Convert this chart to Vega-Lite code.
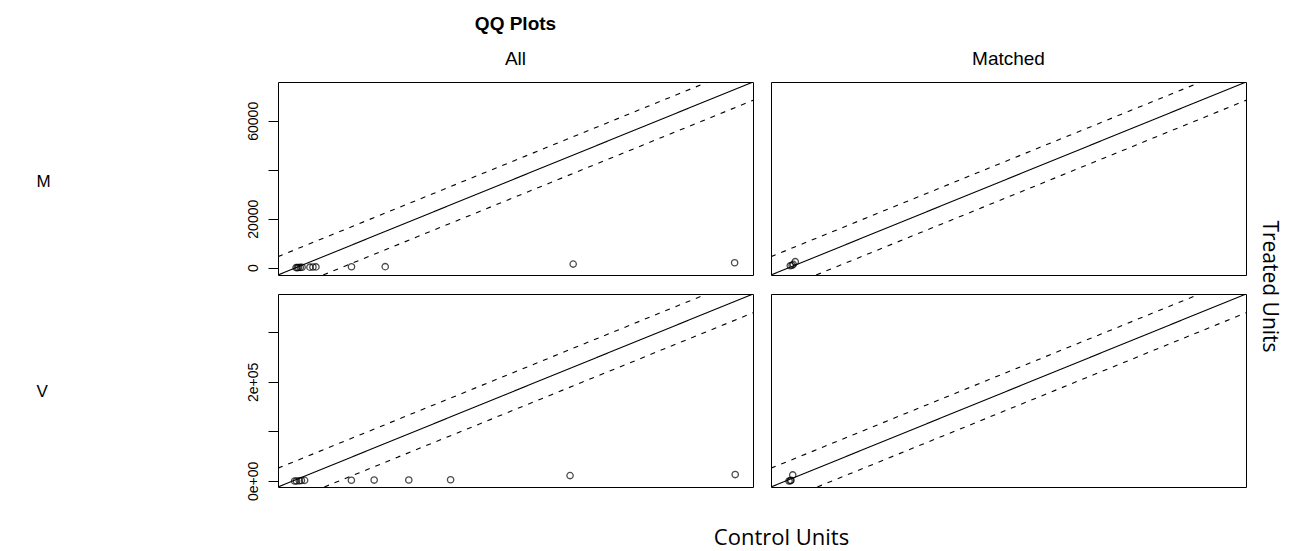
{
  "$schema": "https://vega.github.io/schema/vega-lite/v6.json",
  "padding": {"left": 35, "top": 14, "right": 12, "bottom": 0},
  "background": "white",
  "datasets": {
    "lines": [
      {"row": "M", "kind": "solid", "x": -3000, "y": -3000, "x2": 75850, "y2": 75850},
      {"row": "M", "kind": "dashed", "x": -3000, "y": 4500, "x2": 68350, "y2": 75850},
      {"row": "M", "kind": "dashed", "x": 4500, "y": -3000, "x2": 75850, "y2": 68350},
      {"row": "V", "kind": "solid", "x": -12200, "y": -12200, "x2": 377500, "y2": 377500},
      {"row": "V", "kind": "dashed", "x": -12200, "y": 25800, "x2": 339500, "y2": 377500},
      {"row": "V", "kind": "dashed", "x": 25800, "y": -12200, "x2": 377500, "y2": 339500}
    ],
    "points": [
      {"row": "M", "col": "All", "x": 0, "y": 0},
      {"row": "M", "col": "All", "x": 200, "y": 0},
      {"row": "M", "col": "All", "x": 400, "y": 50},
      {"row": "M", "col": "All", "x": 700, "y": 100},
      {"row": "M", "col": "All", "x": 1000, "y": 150},
      {"row": "M", "col": "All", "x": 2300, "y": 200},
      {"row": "M", "col": "All", "x": 2800, "y": 250},
      {"row": "M", "col": "All", "x": 3300, "y": 300},
      {"row": "M", "col": "All", "x": 9200, "y": 350},
      {"row": "M", "col": "All", "x": 14800, "y": 400},
      {"row": "M", "col": "All", "x": 46000, "y": 1460},
      {"row": "M", "col": "All", "x": 72800, "y": 2030},
      {"row": "M", "col": "Matched", "x": 200, "y": 800},
      {"row": "M", "col": "Matched", "x": 500, "y": 1000},
      {"row": "M", "col": "Matched", "x": 700, "y": 1350},
      {"row": "M", "col": "Matched", "x": 1030, "y": 2440},
      {"row": "V", "col": "All", "x": 1440, "y": 0},
      {"row": "V", "col": "All", "x": 3000, "y": 0},
      {"row": "V", "col": "All", "x": 5300, "y": 500},
      {"row": "V", "col": "All", "x": 7000, "y": 800},
      {"row": "V", "col": "All", "x": 9650, "y": 1200},
      {"row": "V", "col": "All", "x": 48000, "y": 1500},
      {"row": "V", "col": "All", "x": 66700, "y": 1800},
      {"row": "V", "col": "All", "x": 95100, "y": 2000},
      {"row": "V", "col": "All", "x": 129400, "y": 2500},
      {"row": "V", "col": "All", "x": 227400, "y": 10800},
      {"row": "V", "col": "All", "x": 362900, "y": 12900},
      {"row": "V", "col": "Matched", "x": 2600, "y": 0},
      {"row": "V", "col": "Matched", "x": 3660, "y": 500},
      {"row": "V", "col": "Matched", "x": 4200, "y": 1500},
      {"row": "V", "col": "Matched", "x": 5630, "y": 12200}
    ]
  },
  "columns": 2,
  "spacing": {"row": 19, "column": 18},
  "bounds": "flush",
  "resolve": {"scale": {"x": "independent", "y": "independent"}},
  "concat": [
    {
      "width": 475, "height": 193,
      "title": {"text": "QQ Plots", "subtitle": "All", "anchor": "middle", "frame": "group", "font": "Liberation Sans", "fontSize": 19, "fontWeight": "bold", "color": "black", "subtitleFont": "Liberation Sans", "subtitleFontSize": 19, "subtitleColor": "black", "subtitlePadding": 16, "offset": 13},
      "layer": [
        {
          "data": {"name": "lines"},
          "transform": [{"filter": "datum.row == 'M'"}],
          "mark": {"type": "rule", "color": "black", "strokeWidth": 1.1, "clip": true},
          "encoding": {
            "x": {"field": "x", "type": "quantitative", "scale": {"domain": [-3000, 75850], "nice": false, "zero": false}, "axis": null},
            "y": {"field": "y", "type": "quantitative", "scale": {"domain": [-3000, 75850], "nice": false, "zero": false},
                  "axis": {"values": [0, 20000, 40000, 60000], "format": "d", "labelExpr": "datum.value == 40000 ? '' : datum.label", "labelAngle": -90, "labelAlign": "center", "labelBaseline": "bottom", "labelPadding": 8, "labelFontSize": 14, "labelFlush": false, "labelOverlap": false, "tickSize": 10, "title": "M", "titleAngle": 0, "titleAlign": "left", "titleBaseline": "middle", "titleX": -242, "titleY": 99, "titleFontSize": 17}},
            "x2": {"field": "x2"},
            "y2": {"field": "y2"},
            "strokeDash": {"field": "kind", "type": "nominal", "scale": {"domain": ["solid", "dashed"], "range": [[1, 0], [5, 6]]}, "legend": null}
          }
        },
        {
          "data": {"name": "points"},
          "transform": [{"filter": "datum.row == 'M' && datum.col == 'All'"}],
          "mark": {"type": "point", "shape": "circle", "filled": false, "color": "black", "strokeWidth": 1.3, "size": 40},
          "encoding": {
            "x": {"field": "x", "type": "quantitative"},
            "y": {"field": "y", "type": "quantitative"}
          }
        }
      ]
    },
    {
      "width": 475, "height": 193,
      "title": {"text": "Matched", "anchor": "middle", "frame": "group", "font": "Liberation Sans", "fontSize": 19, "fontWeight": "normal", "color": "black", "offset": 13},
      "layer": [
        {
          "data": {"name": "lines"},
          "transform": [{"filter": "datum.row == 'M'"}],
          "mark": {"type": "rule", "color": "black", "strokeWidth": 1.1, "clip": true},
          "encoding": {
            "x": {"field": "x", "type": "quantitative", "scale": {"domain": [-3000, 75850], "nice": false, "zero": false}, "axis": null},
            "y": {"field": "y", "type": "quantitative", "scale": {"domain": [-3000, 75850], "nice": false, "zero": false},
                  "axis": {"orient": "right", "labels": false, "ticks": false, "domain": false, "title": "Treated Units", "titleAngle": 90, "titleAlign": "center", "titleBaseline": "alphabetic", "titleX": 16, "titleY": 204, "titleFont": "Open Sans", "titleFontSize": 21}},
            "x2": {"field": "x2"},
            "y2": {"field": "y2"},
            "strokeDash": {"field": "kind", "type": "nominal", "scale": {"domain": ["solid", "dashed"], "range": [[1, 0], [5, 6]]}, "legend": null}
          }
        },
        {
          "data": {"name": "points"},
          "transform": [{"filter": "datum.row == 'M' && datum.col == 'Matched'"}],
          "mark": {"type": "point", "shape": "circle", "filled": false, "color": "black", "strokeWidth": 1.3, "size": 40},
          "encoding": {
            "x": {"field": "x", "type": "quantitative"},
            "y": {"field": "y", "type": "quantitative"}
          }
        }
      ]
    },
    {
      "width": 475, "height": 193,
      "layer": [
        {
          "data": {"name": "lines"},
          "transform": [{"filter": "datum.row == 'V'"}],
          "mark": {"type": "rule", "color": "black", "strokeWidth": 1.1, "clip": true},
          "encoding": {
            "x": {"field": "x", "type": "quantitative", "scale": {"domain": [-12200, 377500], "nice": false, "zero": false},
                  "axis": {"labels": false, "ticks": false, "domain": false, "title": "Control Units", "titleX": 503, "titleY": 57, "titleAlign": "center", "titleBaseline": "alphabetic", "titleFont": "Open Sans", "titleFontSize": 22}},
            "y": {"field": "y", "type": "quantitative", "scale": {"domain": [-12200, 377500], "nice": false, "zero": false},
                  "axis": {"values": [0, 100000, 200000, 300000], "labelExpr": "datum.value == 0 ? '0e+00' : (datum.value == 200000 ? '2e+05' : '')", "labelAngle": -90, "labelAlign": "center", "labelBaseline": "bottom", "labelPadding": 8, "labelFontSize": 14, "labelFlush": false, "labelOverlap": false, "tickSize": 10, "title": "V", "titleAngle": 0, "titleAlign": "left", "titleBaseline": "middle", "titleX": -242, "titleY": 97, "titleFontSize": 17}},
            "x2": {"field": "x2"},
            "y2": {"field": "y2"},
            "strokeDash": {"field": "kind", "type": "nominal", "scale": {"domain": ["solid", "dashed"], "range": [[1, 0], [5, 6]]}, "legend": null}
          }
        },
        {
          "data": {"name": "points"},
          "transform": [{"filter": "datum.row == 'V' && datum.col == 'All'"}],
          "mark": {"type": "point", "shape": "circle", "filled": false, "color": "black", "strokeWidth": 1.3, "size": 40},
          "encoding": {
            "x": {"field": "x", "type": "quantitative"},
            "y": {"field": "y", "type": "quantitative"}
          }
        }
      ]
    },
    {
      "width": 475, "height": 193,
      "layer": [
        {
          "data": {"name": "lines"},
          "transform": [{"filter": "datum.row == 'V'"}],
          "mark": {"type": "rule", "color": "black", "strokeWidth": 1.1, "clip": true},
          "encoding": {
            "x": {"field": "x", "type": "quantitative", "scale": {"domain": [-12200, 377500], "nice": false, "zero": false}, "axis": null},
            "y": {"field": "y", "type": "quantitative", "scale": {"domain": [-12200, 377500], "nice": false, "zero": false}, "axis": null},
            "x2": {"field": "x2"},
            "y2": {"field": "y2"},
            "strokeDash": {"field": "kind", "type": "nominal", "scale": {"domain": ["solid", "dashed"], "range": [[1, 0], [5, 6]]}, "legend": null}
          }
        },
        {
          "data": {"name": "points"},
          "transform": [{"filter": "datum.row == 'V' && datum.col == 'Matched'"}],
          "mark": {"type": "point", "shape": "circle", "filled": false, "color": "black", "strokeWidth": 1.3, "size": 40},
          "encoding": {
            "x": {"field": "x", "type": "quantitative"},
            "y": {"field": "y", "type": "quantitative"}
          }
        }
      ]
    }
  ],
  "config": {
    "view": {"stroke": "black", "strokeWidth": 1},
    "axis": {"grid": false, "domain": false, "tickColor": "black", "tickWidth": 1, "labelColor": "black", "titleColor": "black", "labelFont": "Liberation Sans", "titleFont": "Liberation Sans", "titleFontWeight": "normal"}
  }
}
